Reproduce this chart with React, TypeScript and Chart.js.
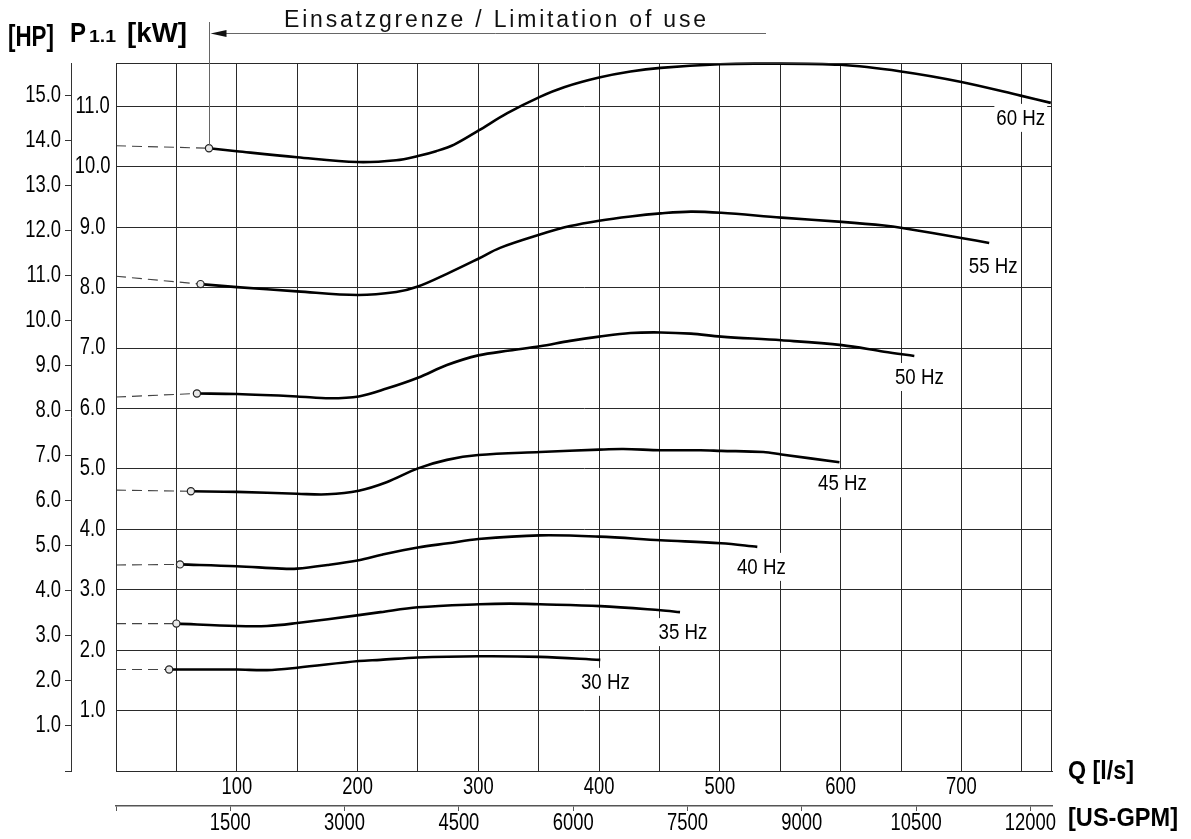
import React, { useEffect, useRef } from 'react';
import { Chart, registerables } from 'chart.js';

Chart.register(...registerables);

// ---- axis ranges & unit conversion ----
const X_MAX = 775; // l/s
const Y_MAX = 11.72; // kW
const LPS_TO_GPM = 15.8503;
const KW_TO_HP = 1 / 0.7457;

// ---- series (Q in l/s, P1.1 in kW) ----
const FREQ_LABELS = ['60 Hz', '55 Hz', '50 Hz', '45 Hz', '40 Hz', '35 Hz', '30 Hz'];

const Q60 = [77, 100, 150, 200, 232, 250, 265, 280, 300, 324, 351, 371, 400, 426, 451, 500, 534, 600, 650, 699, 749, 774];
const P60 = [10.31, 10.26, 10.16, 10.08, 10.11, 10.18, 10.26, 10.37, 10.6, 10.89, 11.16, 11.32, 11.48, 11.58, 11.64, 11.7, 11.71, 11.69, 11.58, 11.41, 11.18, 11.06];

const Q55 = [70, 100, 150, 200, 232, 250, 274, 300, 318, 351, 376, 400, 426, 451, 476, 501, 551, 601, 636, 651, 701, 723];
const P55 = [8.06, 8.01, 7.94, 7.88, 7.93, 8.02, 8.23, 8.48, 8.66, 8.88, 9.02, 9.11, 9.18, 9.23, 9.26, 9.24, 9.16, 9.09, 9.03, 8.99, 8.82, 8.74];

const Q50 = [67, 100, 150, 177, 201, 224, 250, 274, 300, 326, 351, 376, 400, 426, 451, 476, 501, 551, 601, 636, 661];
const P50 = [6.25, 6.24, 6.2, 6.17, 6.2, 6.33, 6.51, 6.72, 6.88, 6.96, 7.03, 7.12, 7.19, 7.25, 7.26, 7.24, 7.19, 7.13, 7.05, 6.94, 6.87];

const Q45 = [62, 100, 150, 175, 201, 224, 250, 274, 300, 351, 400, 420, 451, 484, 501, 536, 551, 599];
const P45 = [4.63, 4.62, 4.59, 4.58, 4.64, 4.78, 5.01, 5.15, 5.23, 5.28, 5.32, 5.33, 5.31, 5.31, 5.3, 5.28, 5.24, 5.11];

const Q40 = [53, 100, 137, 150, 175, 201, 220, 250, 275, 300, 351, 400, 451, 501, 531];
const P40 = [3.42, 3.39, 3.35, 3.35, 3.41, 3.49, 3.58, 3.7, 3.77, 3.84, 3.9, 3.88, 3.82, 3.77, 3.71];

const Q35 = [50, 100, 125, 150, 201, 219, 250, 301, 326, 351, 401, 451, 467];
const P35 = [2.44, 2.4, 2.4, 2.45, 2.58, 2.63, 2.71, 2.76, 2.77, 2.76, 2.73, 2.66, 2.63];

const Q30 = [44, 100, 125, 150, 201, 219, 250, 301, 351, 401];
const P30 = [1.68, 1.68, 1.67, 1.71, 1.82, 1.84, 1.88, 1.9, 1.89, 1.84];

// P at Q = 0 of the dashed extension of each curve
const DASH_START = [10.35, 8.19, 6.19, 4.65, 3.41, 2.44, 1.68];

// ---- ticks ----
const LPS_GRID = [0, 50, 100, 150, 200, 250, 300, 350, 400, 450, 500, 550, 600, 650, 700, 750];
const LPS_LABELS = [100, 200, 300, 400, 500, 600, 700];
const GPM_TICKS = [0, 1500, 3000, 4500, 6000, 7500, 9000, 10500, 12000];
const KW_TICKS = [0, 1, 2, 3, 4, 5, 6, 7, 8, 9, 10, 11];
const HP_TICKS = [0, 1, 2, 3, 4, 5, 6, 7, 8, 9, 10, 11, 12, 13, 14, 15];

const TITLE = 'Einsatzgrenze / Limitation of use';

// ---- styles ----
const NARROW = '"Liberation Sans Narrow", "Liberation Sans", Arial, sans-serif';
const REGULAR = '"Liberation Sans", Arial, sans-serif';
const NARROW_SCALE = 0.8;
const GRID = '#2a2a2a';
const LABEL_OFFSETS = [[-30, 15], [4, 23], [5, 21], [3, 21], [4, 20], [3, 20], [5, 22]];

const QS = [Q60, Q55, Q50, Q45, Q40, Q35, Q30];
const PS = [P60, P55, P50, P45, P40, P35, P30];

function fitText(ctx: CanvasRenderingContext2D, text: string, x: number, y: number, width: number) {
  const w = ctx.measureText(text).width;
  ctx.save();
  ctx.translate(x, y);
  ctx.scale(width / w, 1);
  ctx.fillText(text, 0, 0);
  ctx.restore();
}

function App() {
  const ref = useRef<HTMLCanvasElement>(null);

  useEffect(() => {
    document.body.style.margin = '0';
    const canvas = ref.current;
    if (!canvas) return;

    const curveSets = QS.map((q, i) => ({
      label: FREQ_LABELS[i],
      data: q.map((x, j) => ({ x, y: PS[i][j] })),
      borderColor: '#000',
      borderWidth: 2.6,
      tension: 0.35,
      pointRadius: (c: any) => (c.dataIndex === 0 ? 3.6 : 0),
      pointBackgroundColor: '#e8e8e8',
      pointBorderColor: '#222',
      pointBorderWidth: 1.2,
      clip: false as const,
      xAxisID: 'x',
      yAxisID: 'y',
    }));

    const dashSets = QS.map((q, i) => ({
      label: FREQ_LABELS[i] + ' ext',
      data: [
        { x: 0, y: DASH_START[i] },
        { x: q[0], y: PS[i][0] },
      ],
      borderColor: '#444',
      borderWidth: 1.1,
      borderDash: [10, 6],
      pointRadius: 0,
      clip: false as const,
      xAxisID: 'x',
      yAxisID: 'y',
    }));

    const condense = {
      id: 'condense',
      beforeDraw(chart: any) {
        const ctx: any = chart.ctx;
        if (ctx.__condensed) return;
        ctx.__condensed = true;
        const orig = ctx.fillText;
        ctx.fillText = function (text: string, x: number, y: number, maxWidth?: number) {
          if (typeof this.font === 'string' && this.font.indexOf('Narrow') >= 0) {
            this.save();
            this.translate(x, y);
            this.scale(NARROW_SCALE, 1);
            orig.call(this, text, 0, 0);
            this.restore();
          } else if (maxWidth === undefined) {
            orig.call(this, text, x, y);
          } else {
            orig.call(this, text, x, y, maxWidth);
          }
        };
      },
    };

    const decor = {
      id: 'decor',
      afterDatasetsDraw(chart: any) {
        const ctx = chart.ctx;
        ctx.save();
        ctx.font = `22px ${REGULAR}`;
        ctx.textAlign = 'center';
        ctx.textBaseline = 'middle';
        const s = 0.85;
        for (let i = 0; i < QS.length; i++) {
          const meta = chart.getDatasetMeta(i);
          const pt = meta.data[meta.data.length - 1];
          const cx = pt.x + LABEL_OFFSETS[i][0];
          const cy = pt.y + LABEL_OFFSETS[i][1];
          const w = ctx.measureText(FREQ_LABELS[i]).width * s + 4;
          ctx.fillStyle = '#fff';
          ctx.fillRect(cx - w / 2, cy - 14, w, 28);
          ctx.fillStyle = '#000';
          ctx.save();
          ctx.translate(cx, cy + 1);
          ctx.scale(s, 1);
          ctx.fillText(FREQ_LABELS[i], 0, 0);
          ctx.restore();
        }
        ctx.restore();
      },
      afterDraw(chart: any) {
        const ctx = chart.ctx;
        const a = chart.chartArea;
        const xs = chart.scales.x;
        const ys = chart.scales.y;
        ctx.save();
        // frame
        ctx.strokeStyle = GRID;
        ctx.lineWidth = 1;
        ctx.strokeRect(Math.round(a.left) + 0.5, Math.round(a.top) + 0.5, Math.round(a.right - a.left) - 1, Math.round(a.bottom - a.top));

        // limitation of use marker
        const vx = Math.round(xs.getPixelForValue(Q60[0])) + 0.5;
        const vy = ys.getPixelForValue(P60[0]);
        ctx.strokeStyle = '#666';
        ctx.lineWidth = 1;
        ctx.beginPath();
        ctx.moveTo(vx, 22);
        ctx.lineTo(vx, vy - 3);
        ctx.stroke();
        ctx.beginPath();
        ctx.moveTo(vx + 16, 33.5);
        ctx.lineTo(766, 33.5);
        ctx.stroke();
        ctx.fillStyle = '#111';
        ctx.beginPath();
        ctx.moveTo(vx + 1, 33.5);
        ctx.lineTo(vx + 17, 30);
        ctx.lineTo(vx + 17, 37);
        ctx.closePath();
        ctx.fill();

        // title
        ctx.fillStyle = '#111';
        ctx.font = `23px ${REGULAR}`;
        (ctx as any).letterSpacing = '2.8px';
        ctx.textAlign = 'left';
        ctx.textBaseline = 'alphabetic';
        ctx.fillText(TITLE, 284, 27);
        (ctx as any).letterSpacing = '0px';

        // axis titles
        ctx.fillStyle = '#000';
        ctx.font = `bold 29px ${REGULAR}`;
        fitText(ctx, '[HP]', 8, 46, 46);
        ctx.font = `bold 28px ${REGULAR}`;
        fitText(ctx, 'P', 70, 42, 16);
        ctx.font = `bold 17px ${REGULAR}`;
        fitText(ctx, '1.1', 89, 42, 27);
        ctx.font = `bold 28px ${REGULAR}`;
        fitText(ctx, '[kW]', 127, 42, 60);
        ctx.font = `bold 26px ${REGULAR}`;
        fitText(ctx, 'Q [l/s]', 1068, 779, 66);
        fitText(ctx, '[US-GPM]', 1068, 826, 110);
        ctx.restore();
      },
    };

    const tickFont = { family: NARROW, size: 23, lineHeight: 1 };
    const setTicks = (vals: number[]) => (s: any) => {
      s.ticks = vals.map((value) => ({ value }));
    };

    const chart = new Chart(canvas, {
      type: 'line',
      data: { datasets: [...curveSets, ...dashSets] as any },
      options: {
        animation: false,
        responsive: false,
        events: [],
        layout: { padding: { top: 63, right: 139, left: 0, bottom: 0 } },
        plugins: { legend: { display: false }, tooltip: { enabled: false }, title: { display: false } },
        scales: {
          x: {
            type: 'linear',
            position: 'bottom',
            weight: 0,
            min: 0,
            max: X_MAX,
            afterBuildTicks: setTicks(LPS_GRID),
            ticks: {
              autoSkip: false,
              maxRotation: 0,
              padding: 5,
              color: '#000',
              font: tickFont,
              callback: (v: any) => (LPS_LABELS.indexOf(v) >= 0 ? String(v) : ''),
            },
            grid: { color: GRID, lineWidth: 1, drawTicks: false },
            border: { color: GRID, width: 1 },
            afterFit: (s: any) => { s.height = 35; },
          },
          xGPM: {
            type: 'linear',
            position: 'bottom',
            weight: 1,
            min: 0,
            max: X_MAX * LPS_TO_GPM,
            afterBuildTicks: setTicks(GPM_TICKS),
            ticks: {
              autoSkip: false,
              maxRotation: 0,
              padding: 1,
              color: '#000',
              font: tickFont,
              callback: (v: any) => (v > 0 ? String(v) : ''),
            },
            grid: { drawOnChartArea: false, drawTicks: true, tickLength: 5, color: '#555' },
            border: { color: '#555', width: 1.5 },
            afterFit: (s: any) => { s.height = 33; },
          },
          y: {
            type: 'linear',
            position: 'left',
            weight: 0,
            min: 0,
            max: Y_MAX,
            afterBuildTicks: setTicks(KW_TICKS),
            ticks: {
              autoSkip: false,
              crossAlign: 'center',
              padding: 1,
              color: '#000',
              font: tickFont,
              callback: (v: any) => (v > 0 ? Number(v).toFixed(1) : ''),
            },
            grid: { color: GRID, lineWidth: 1, drawTicks: false },
            border: { color: GRID, width: 1 },
            afterFit: (s: any) => { s.width = 45; },
          },
          yHP: {
            type: 'linear',
            position: 'left',
            weight: 1,
            min: 0,
            max: Y_MAX * KW_TO_HP,
            afterBuildTicks: setTicks(HP_TICKS),
            ticks: {
              autoSkip: false,
              padding: 4,
              color: '#000',
              font: tickFont,
              callback: (v: any) => (v > 0 ? Number(v).toFixed(1) : ''),
            },
            grid: { drawOnChartArea: false, drawTicks: true, tickLength: 6, color: '#333' },
            border: { color: '#333', width: 1 },
            afterFit: (s: any) => { s.width = 71; },
          },
        },
      } as any,
      plugins: [condense, decor],
    });

    return () => chart.destroy();
  }, []);

  return (
    <div style={{ width: 1191, height: 839 }}>
      <canvas ref={ref} width={1191} height={839} style={{ display: 'block' }} />
    </div>
  );
}

export default App;
